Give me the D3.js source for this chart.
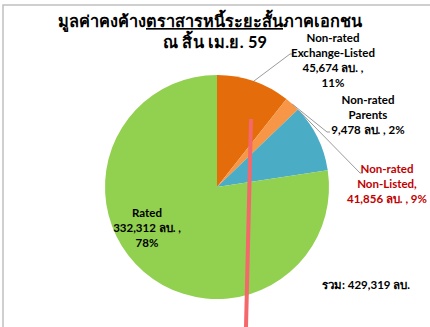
<!DOCTYPE html>
<html>
<head>
<meta charset="utf-8">
<script src="https://cdn.jsdelivr.net/npm/d3@7"></script>
<style>
  html, body { margin: 0; padding: 0; background: #fff; }
  svg { display: block; }
  text { font-family: Lato, "Noto Sans", "DejaVu Sans", sans-serif; font-weight: bold; }
</style>
</head>
<body>
<svg id="chart" width="430" height="327"></svg>
<script>
// Outstanding short-term private debt, end of Apr 2016 (million baht)
const categories = ["Non-rated Exchange-Listed", "Non-rated Parents", "Non-rated Non-Listed", "Rated"];
const values = [45674, 9478, 41856, 332312];
const percents = ["11%", "2%", "9%", "78%"];
const colors = ["#E46C0A", "#F79646", "#4BACC6", "#92D050"];
const labelLines = [
  ["Non-rated", "Exchange-Listed", "45,674 ลบ. ,", "11%"],
  ["Non-rated", "Parents", "9,478 ลบ. , 2%"],
  ["Non-rated", "Non-Listed,", "41,856 ลบ. , 9%"],
  ["Rated", "332,312 ลบ. ,", "78%"]
];
const totalLabel = "รวม: 429,319 ลบ.";
const titleLine1 = ["มูลค่าคงค้าง", "ตราสารหนี้ระยะสั้น", "ภาคเอกชน"];
const titleLine2 = "ณ สิ้น เม.ย. 59";

const svg = d3.select("#chart");

// frame
svg.append("path")
  .attr("d", "M3,327V5H430")
  .attr("fill", "none")
  .attr("stroke", "#c0c0c0")
  .attr("stroke-width", 1.5);

// title (two lines, the middle phrase underlined)
const t1 = svg.append("text")
  .attr("x", 210).attr("y", 27)
  .attr("text-anchor", "middle")
  .attr("font-size", 16.3)
  .attr("fill", "#000");
titleLine1.forEach((s, i) => {
  t1.append("tspan").text(s).attr("text-decoration", i === 1 ? "underline" : null);
});
svg.append("text")
  .attr("x", 215).attr("y", 48)
  .attr("text-anchor", "middle")
  .attr("font-size", 16.3)
  .attr("fill", "#000")
  .attr("textLength", 104)
  .attr("lengthAdjust", "spacing")
  .text(titleLine2);

// pie
const cx = 217, cy = 187, r = 112;
const pie = d3.pie().sort(null).value(d => d).startAngle(0).endAngle(2 * Math.PI);
const arcs = pie(values);
const arc = d3.arc().innerRadius(0).outerRadius(r);
const g = svg.append("g").attr("transform", `translate(${cx},${cy})`);
g.selectAll("path.slice")
  .data(arcs)
  .join("path")
  .attr("class", "slice")
  .attr("d", arc)
  .attr("fill", (d, i) => colors[i]);

// point on the rim at a given angle (d3 angle convention: 0 = 12 o'clock, clockwise)
function rim(angle, rad) {
  return [cx + rad * Math.sin(angle), cy - rad * Math.cos(angle)];
}

// leader lines for the outside labels
const leaders = [
  { i: 0, frac: 0.5, end: [290, 54], tail: 4 },
  { i: 1, frac: 0.5, end: [327, 132], tail: 3 },
  { i: 2, frac: 0.02, end: [360, 173], tail: 3 }
];
leaders.forEach(L => {
  const a = arcs[L.i];
  const ang = a.startAngle + (a.endAngle - a.startAngle) * L.frac;
  const p0 = rim(ang, r);
  svg.append("path")
    .attr("d", `M${p0[0]},${p0[1]}L${L.end[0]},${L.end[1]}h${L.tail}`)
    .attr("fill", "none")
    .attr("stroke", "#808080")
    .attr("stroke-width", 0.8);
});

// data labels
const labelPos = [
  { x: 333, y: 42, anchor: "middle", color: "#000" },
  { x: 368, y: 104, anchor: "middle", color: "#000" },
  { x: 387, y: 173, anchor: "middle", color: "#C00000" },
  { x: 147, y: 217, anchor: "middle", color: "#000" }
];
const lh = 15;
labelLines.forEach((lines, i) => {
  const P = labelPos[i];
  const t = svg.append("text")
    .attr("font-size", 11.5)
    .attr("fill", P.color)
    .attr("text-anchor", P.anchor);
  lines.forEach((s, j) => {
    t.append("tspan").attr("x", P.x).attr("y", P.y + j * lh).text(s);
  });
});

// total
svg.append("text")
  .attr("x", 322).attr("y", 289)
  .attr("font-size", 11.5)
  .attr("fill", "#000")
  .text(totalLabel);

// highlight stroke over the chart
svg.append("line")
  .attr("x1", 251).attr("y1", 119)
  .attr("x2", 246).attr("y2", 327)
  .attr("stroke", "#F4676B")
  .attr("stroke-width", 4);
</script>
</body>
</html>
